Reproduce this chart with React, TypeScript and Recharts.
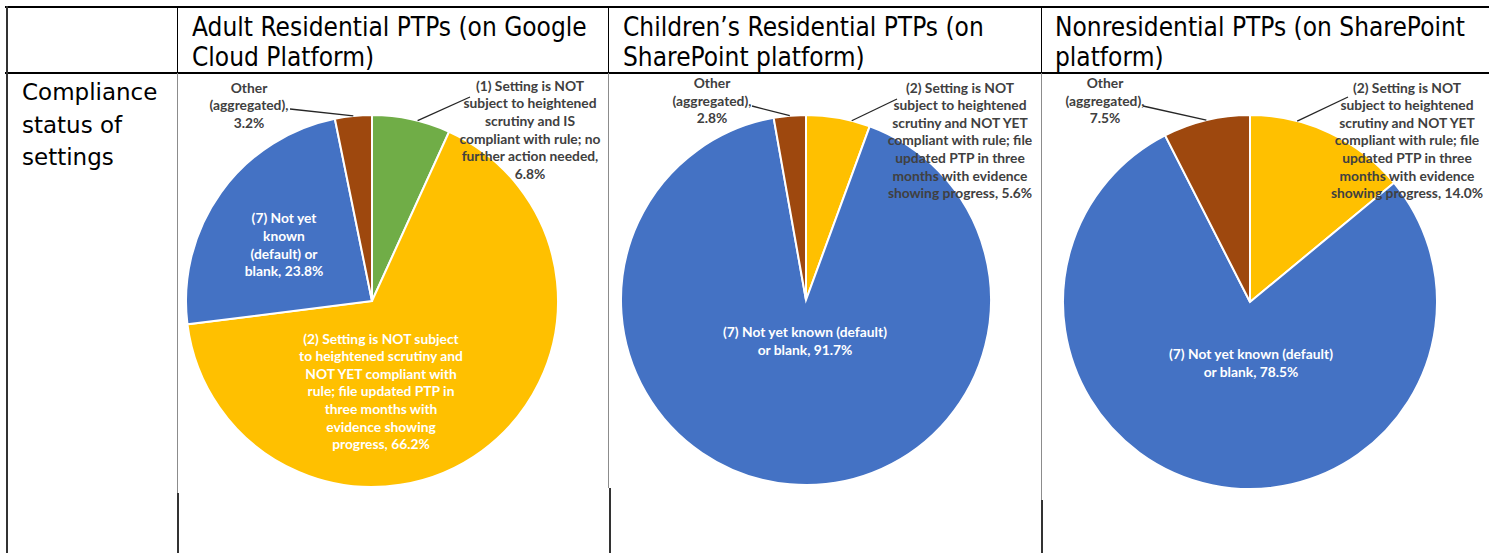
import { PieChart, Pie, Cell } from 'recharts';

// Colours used by the Excel charts
const GREEN = '#70AD47';
const YELLOW = '#FFC000';
const BLUE = '#4472C4';
const BROWN = '#9E480E';

// Table texts
const headerLines = [
  ['Adult Residential PTPs (on Google', 'Cloud Platform)'],
  ['Children\u2019s Residential PTPs (on', 'SharePoint platform)'],
  ['Nonresidential PTPs (on SharePoint', 'platform)'],
];
const rowLabel = ['Compliance', 'status of', 'settings'];

// Adult residential (Google Cloud Platform)
const adultValues = [6.8, 66.2, 23.8, 3.2];
const adultColors = [GREEN, YELLOW, BLUE, BROWN];
const adultLabels = [
  ['(1) Setting is NOT', 'subject to heightened', 'scrutiny and IS', 'compliant with rule; no', 'further action needed,', ''],
  ['(2) Setting is NOT subject', 'to heightened scrutiny and', 'NOT YET compliant with', 'rule; file updated PTP in', 'three months with', 'evidence showing', 'progress,'],
  ['(7) Not yet', 'known', '(default) or', 'blank,'],
  ['Other', '(aggregated),', ''],
];

// Children's residential (SharePoint)
const childValues = [5.6, 91.7, 2.8];
const childColors = [YELLOW, BLUE, BROWN];
const childLabels = [
  ['(2) Setting is NOT', 'subject to heightened', 'scrutiny and NOT YET', 'compliant with rule; file', 'updated PTP in three', 'months with evidence', 'showing progress,'],
  ['(7) Not yet known (default)', 'or blank,'],
  ['Other', '(aggregated),', ''],
];

// Nonresidential (SharePoint)
const nonresValues = [14.0, 78.5, 7.5];
const nonresColors = [YELLOW, BLUE, BROWN];
const nonresLabels = [
  ['(2) Setting is NOT', 'subject to heightened', 'scrutiny and NOT YET', 'compliant with rule; file', 'updated PTP in three', 'months with evidence', 'showing progress,'],
  ['(7) Not yet known (default)', 'or blank,'],
  ['Other', '(aggregated),', ''],
];

// label placement relative to the pie centre (layout, not data)
type Place = { dx: number; dy: number; inside?: boolean; end?: [number, number]; attach?: number };

const adultPlace: Place[] = [
  { dx: 158, dy: -171, end: [98, -204], attach: 0.58 },
  { dx: 9, dy: 90.5, inside: true },
  { dx: -88, dy: -56, inside: true },
  { dx: -123, dy: -195.5, end: [-82, -192] },
];
const childPlace: Place[] = [
  { dx: 154, dy: -159.5, end: [91, -201], attach: 0.71 },
  { dx: -1, dy: 41, inside: true },
  { dx: -94, dy: -199, end: [-54, -194] },
];
const nonresPlace: Place[] = [
  { dx: 157, dy: -161.5, end: [98, -205], attach: 0.29 },
  { dx: 1, dy: 61, inside: true },
  { dx: -145, dy: -201, end: [-107, -196] },
];

const LH = 17.6;
const LABEL_FS = 13.8;

function withPct(lines: string[], v: number) {
  const pct = `${v.toFixed(1)}%`;
  const out = lines.slice();
  const last = out[out.length - 1];
  out[out.length - 1] = last ? `${last} ${pct}` : pct;
  return out;
}

function makeLabel(lines: string[][], values: number[], place: Place[]) {
  return (props: any) => {
    const { cx, cy, index, startAngle, endAngle, outerRadius } = props;
    const p = place[index];
    const text = withPct(lines[index], values[index]);
    const x = cx + p.dx;
    const y0 = cy + p.dy - ((text.length - 1) * LH) / 2;
    let leader = null;
    if (p.end) {
      const a = ((startAngle + (endAngle - startAngle) * (p.attach ?? 0.5)) * Math.PI) / 180;
      const sx = cx + outerRadius * Math.cos(a);
      const sy = cy - outerRadius * Math.sin(a);
      leader = (
        <line x1={sx} y1={sy} x2={cx + p.end[0]} y2={cy + p.end[1]} stroke="#262626" strokeWidth={1.3} />
      );
    }
    return (
      <g key={`lbl-${index}`}>
        {leader}
        <text
          x={x}
          textAnchor="middle"
          fill={p.inside ? '#ffffff' : '#404040'}
          fontFamily="Lato, 'Open Sans', sans-serif"
          fontWeight={700}
          fontSize={LABEL_FS}
        >
          {text.map((t, i) => (
            <tspan key={i} x={x} y={y0 + i * LH + LABEL_FS * 0.35}>
              {t}
            </tspan>
          ))}
        </text>
      </g>
    );
  };
}

interface PieBoxProps {
  left: number;
  width: number;
  height: number;
  cx: number;
  cy: number;
  r: number;
  values: number[];
  colors: string[];
  labels: string[][];
  place: Place[];
}

function PieBox({ left, width, height, cx, cy, r, values, colors, labels, place }: PieBoxProps) {
  const data = values.map((v, i) => ({ name: labels[i].join(' '), value: v }));
  return (
    <div style={{ position: 'absolute', left, top: 73, width, height }}>
      <PieChart width={width} height={height} margin={{ top: 0, right: 0, bottom: 0, left: 0 }}>
        <Pie
          data={data}
          dataKey="value"
          cx={cx}
          cy={cy}
          outerRadius={r}
          startAngle={90}
          endAngle={-270}
          stroke="#ffffff"
          strokeWidth={2}
          labelLine={false}
          label={makeLabel(labels, values, place)}
          isAnimationActive={false}
        >
          {data.map((_, i) => (
            <Cell key={i} fill={colors[i]} />
          ))}
        </Pie>
      </PieChart>
    </div>
  );
}

const line = (s: React.CSSProperties): React.CSSProperties => ({ position: 'absolute', ...s });

export default function App() {
  const headerLefts = [192, 623, 1055];
  return (
    <div
      style={{
        position: 'absolute',
        left: 0,
        top: 0,
        width: 1489,
        height: 553,
        background: '#fff',
        overflow: 'hidden',
        fontFamily: "'DejaVu Sans', sans-serif",
        color: '#000',
      }}
    >
      {/* table rules */}
      <div style={line({ left: 5, top: 6, width: 1484, height: 2, background: '#000' })} />
      <div style={line({ left: 5, top: 72, width: 1484, height: 1.5, background: '#000' })} />
      <div style={line({ left: 6, top: 6, width: 1.5, height: 547, background: '#333' })} />
      <div style={line({ left: 177, top: 6, width: 1, height: 67, background: '#000' })} />
      <div style={line({ left: 608, top: 6, width: 1, height: 67, background: '#000' })} />
      <div style={line({ left: 1041, top: 6, width: 1, height: 67, background: '#000' })} />

      {/* charts */}
      <PieBox left={177} width={432} height={420} cx={195} cy={228} r={186}
        values={adultValues} colors={adultColors} labels={adultLabels} place={adultPlace} />
      <PieBox left={609} width={432} height={415} cx={197} cy={227} r={185}
        values={childValues} colors={childColors} labels={childLabels} place={childPlace} />
      <PieBox left={1041} width={448} height={427} cx={209} cy={229} r={187}
        values={nonresValues} colors={nonresColors} labels={nonresLabels} place={nonresPlace} />

      {/* chart picture edges and cell rules below them */}
      <div style={line({ left: 177, top: 73, width: 1, height: 420, background: '#8c8c8c' })} />
      <div style={line({ left: 608, top: 73, width: 1, height: 415, background: '#8c8c8c' })} />
      <div style={line({ left: 1041, top: 73, width: 1, height: 427, background: '#8c8c8c' })} />
      <div style={line({ left: 177, top: 493, width: 1.5, height: 60, background: '#333' })} />
      <div style={line({ left: 609, top: 488, width: 1.5, height: 65, background: '#333' })} />
      <div style={line({ left: 1041, top: 500, width: 1.5, height: 53, background: '#333' })} />

      {/* header texts */}
      {headerLines.map((ls, i) => (
        <div
          key={i}
          style={{
            position: 'absolute',
            left: headerLefts[i],
            top: 12,
            fontSize: 26,
            lineHeight: '30px',
            whiteSpace: 'nowrap',
            transform: 'scaleX(0.9)',
            transformOrigin: 'left top',
          }}
        >
          {ls.map((t, j) => (
            <div key={j}>{t}</div>
          ))}
        </div>
      ))}

      {/* row label */}
      <div style={{ position: 'absolute', left: 22, top: 76, fontSize: 23, lineHeight: '32.5px', whiteSpace: 'nowrap' }}>
        {rowLabel.map((t, j) => (
          <div key={j}>{t}</div>
        ))}
      </div>
    </div>
  );
}
